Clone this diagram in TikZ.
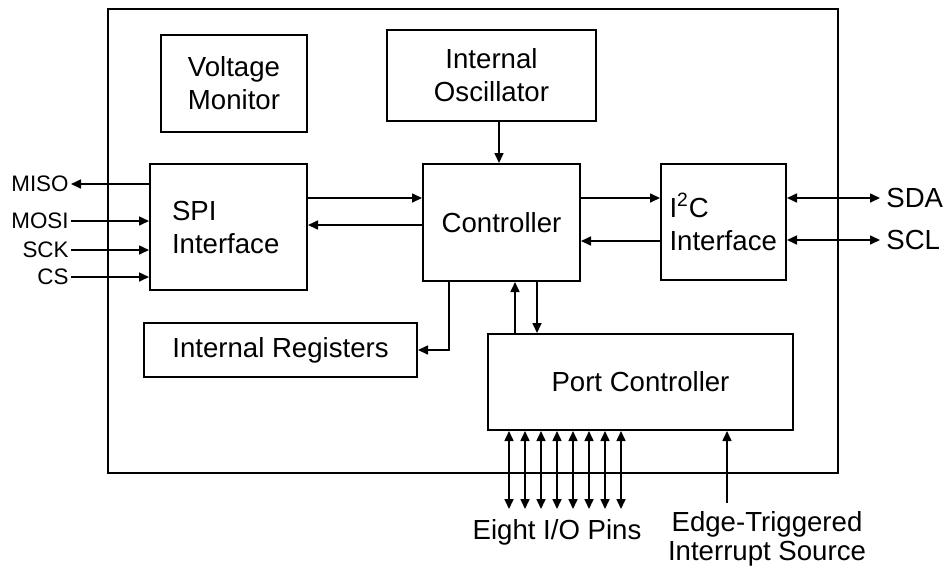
\documentclass[tikz,border=0pt]{standalone}
\usepackage{fontspec}
\setmainfont{Liberation Sans}
\usetikzlibrary{arrows.meta,calc}

\begin{document}
\begin{tikzpicture}[x=0.5pt,y=-0.5pt,
  blk/.style={draw,line width=1pt,inner sep=0pt},
  sig/.style={line width=0.8pt,-{Triangle[length=5pt,width=4.5pt]}},
  bisig/.style={line width=0.8pt,{Triangle[length=5pt,width=4.5pt]}-{Triangle[length=5pt,width=4.5pt]}},
  pinlbl/.style={inner sep=1pt,font=\fontsize{11.2}{13}\selectfont},
  font=\fontsize{13.8}{16.5}\selectfont]
  \useasboundingbox (0,0) rectangle (948,569);
  % device outline
  \node[blk,minimum width=365pt,minimum height=232pt] (chip) at (473,241) {};
  % internal blocks
  \node[blk,minimum width=73pt,minimum height=48.5pt,align=center] (volt) at (234,83.5) {Voltage\\Monitor};
  \node[blk,minimum width=104.5pt,minimum height=45.5pt,align=center] (osc) at (491.5,75.5) {Internal\\Oscillator};
  \node[blk,minimum width=78.5pt,minimum height=63pt,text width=56.5pt,align=left] (spi) at (228.5,227) {SPI\\Interface};
  \node[blk,minimum width=78.5pt,minimum height=58.5pt] (ctrl) at (501.5,222.5) {Controller};
  \node[blk,minimum width=62.5pt,minimum height=58pt,text width=54pt,align=left] (i2c) at (723.5,222) {I\textsuperscript{2}C\\Interface};
  \node[blk,minimum width=136.5pt,minimum height=27pt] (regs) at (280.5,350) {Internal Registers};
  \node[blk,minimum width=152.5pt,minimum height=48pt] (port) at (640.5,382) {Port Controller};
  % internal paths
  \draw[sig] ([xshift=3.75pt]osc.south) -- ([xshift=3.75pt]osc.south |- ctrl.north);
  \draw[sig] (spi.east |- 0,198) -- (ctrl.west |- 0,198);
  \draw[sig] (ctrl.west |- 0,225) -- (spi.east |- 0,225);
  \draw[sig] (ctrl.east |- 0,198) -- (i2c.west |- 0,198);
  \draw[sig] (i2c.west |- 0,241) -- (ctrl.east |- 0,241);
  \draw[sig] (ctrl.south -| 449,0) |- (regs.east);
  \draw[sig] (port.north -| 515,0) -- (ctrl.south -| 515,0);
  \draw[sig] (ctrl.south -| 537,0) -- (port.north -| 537,0);
  % SPI pins
  \coordinate (misoEnd) at (71,184);
  \draw[sig] (spi.west |- misoEnd) -- (misoEnd);
  \node[pinlbl,left] (misoLbl) at (misoEnd) {MISO};
  \foreach \nm/\yy in {MOSI/221,SCK/250,CS/277} {
    \coordinate (in\nm) at (71,\yy);
    \node[pinlbl,left] (lbl\nm) at (in\nm) {\nm};
    \draw[sig] (in\nm) -- (spi.west |- in\nm);
  }
  % I2C pins
  \coordinate (sdaEnd) at (880,198);
  \coordinate (sclEnd) at (880,240);
  \draw[bisig] (i2c.east |- sdaEnd) -- (sdaEnd);
  \draw[bisig] (i2c.east |- sclEnd) -- (sclEnd);
  \node[right,inner sep=3pt] (sdaLbl) at (sdaEnd) {SDA};
  \node[right,inner sep=3pt] (sclLbl) at (sclEnd) {SCL};
  % port pins
  \foreach \i [evaluate=\i as \px using 509+16*\i] in {0,...,7} {
    \coordinate (pin\i) at (\px,509);
    \draw[bisig] (pin\i |- port.south) -- (pin\i);
  }
  \node (pinsLbl) at (557,532) {Eight I/O Pins};
  \coordinate (edgeSrc) at (727,503);
  \draw[sig] (edgeSrc) -- (edgeSrc |- port.south);
  \node[below,align=center,inner sep=2pt,font=\fontsize{13.8}{14.5}\selectfont] (edgeLbl) at (767,507) {Edge-Triggered\\Interrupt Source};
\end{tikzpicture}
\end{document}
